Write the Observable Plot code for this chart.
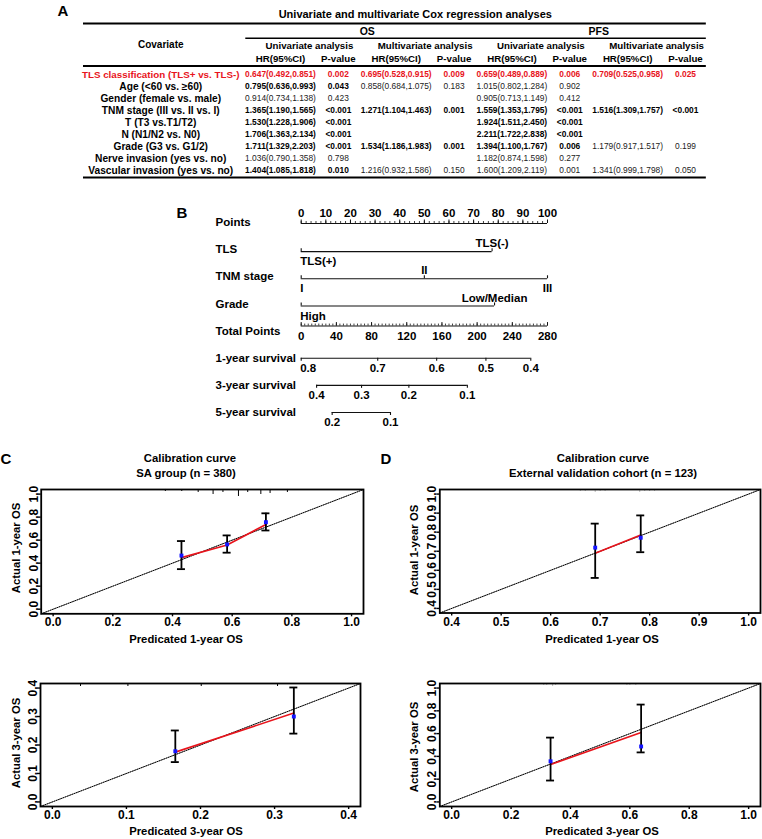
<!DOCTYPE html>
<html><head><meta charset="utf-8">
<script src="https://cdn.jsdelivr.net/npm/d3@7"></script>
<script src="https://cdn.jsdelivr.net/npm/@observablehq/plot@0.6"></script>
<style>
body{margin:0;background:#fff;}
#fig{position:relative;width:762px;height:839px;font-family:"Liberation Sans",Arial,sans-serif;font-weight:bold;color:#000;overflow:hidden;background:#fff}
.blk{position:absolute}
.lbl{position:absolute;white-space:nowrap;transform:translate(-50%,-50%);font-size:11px;line-height:1}
.rot{transform:translate(-50%,-50%) rotate(-90deg)}
</style></head><body><div id="fig"></div>
<script>
// ---------------- DATA ----------------
// Panel A: Cox regression table
const covariates = ["TLS classification (TLS+ vs. TLS-)","Age (<60 vs. ≥60)","Gender (female vs. male)","TNM stage (III vs. II vs. I)","T (T3 vs.T1/T2)","N (N1/N2 vs. N0)","Grade (G3 vs. G1/2)","Nerve invasion (yes vs. no)","Vascular invasion (yes vs. no)"];
const osUniHR = ["0.647(0.492,0.851)","0.795(0.636,0.993)","0.914(0.734,1.138)","1.365(1.190,1.565)","1.530(1.228,1.906)","1.706(1.363,2.134)","1.711(1.329,2.203)","1.036(0.790,1.358)","1.404(1.085,1.818)"];
const osUniP = ["0.002","0.043","0.423","<0.001","<0.001","<0.001","<0.001","0.798","0.010"];
const osMultiHR = ["0.695(0.528,0.915)","0.858(0.684,1.075)","","1.271(1.104,1.463)","","","1.534(1.186,1.983)","","1.216(0.932,1.586)"];
const osMultiP = ["0.009","0.183","","0.001","","","0.001","","0.150"];
const pfsUniHR = ["0.659(0.489,0.889)","1.015(0.802,1.284)","0.905(0.713,1.149)","1.559(1.353,1.795)","1.924(1.511,2.450)","2.211(1.722,2.838)","1.394(1.100,1.767)","1.182(0.874,1.598)","1.600(1.209,2.119)"];
const pfsUniP = ["0.006","0.902","0.412","<0.001","<0.001","<0.001","0.006","0.277","0.001"];
const pfsMultiHR = ["0.709(0.525,0.958)","","","1.516(1.309,1.757)","","","1.179(0.917,1.517)","","1.341(0.999,1.798)"];
const pfsMultiP = ["0.025","","","<0.001","","","0.199","","0.050"];
// cells printed as significant (bold) in the table
const osUniSig   = [1,1,0,1,1,1,1,0,1];
const osMultiSig = [1,0,0,1,0,0,1,0,0];
const pfsUniSig  = [1,0,0,1,1,1,1,0,0];
const pfsMultiSig= [1,0,0,1,0,0,0,0,0];
const highlightRow = 0;
const tableTitle = "Univariate and multivariate Cox regression analyses";
const outcomeGroups = ["OS","PFS"];
const analysisTypes = ["Univariate analysis","Multivariate analysis"];
const statHeads = ["HR(95%CI)","P-value"];

// Panel B: nomogram
const nomoRows = ["Points","TLS","TNM stage","Grade","Total Points","1-year survival","3-year survival","5-year survival"];
const pointsMajor = [0,10,20,30,40,50,60,70,80,90,100];
const tlsLevels = ["TLS(+)","TLS(-)"], tlsPoints = [0,77.5];
const tnmLevels = ["I","II","III"], tnmPoints = [0,50,100];
const gradeLevels = ["High","Low/Median"], gradePoints = [0,78.5];
const totalMajor = [0,40,80,120,160,200,240,280];
const surv1Labels = ["0.8","0.7","0.6","0.5","0.4"], surv1Total = [0,87,154,210,261];
const surv3Labels = ["0.4","0.3","0.2","0.1"], surv3Total = [17.5,68.6,122.4,188.9];
const surv5Labels = ["0.2","0.1"], surv5Total = [35.2,101.5];

// Panel C/D: calibration curves
const pred1SA = [0.430,0.583,0.713], obs1SA = [0.466,0.563,0.756], fit1SA = [0.448,0.558,0.736], lo1SA = [0.348,0.491,0.684], hi1SA = [0.592,0.641,0.833];
const rug1SA = [0.376,0.431,0.486,0.536,0.569,0.621,0.652,0.696,0.727,0.785], rugN1SA = [2,2,3,5,3,7,3,5,4,3];
const pred1Ext = [0.690,0.782], obs1Ext = [0.719,0.771], fit1Ext = [0.690,0.785], lo1Ext = [0.560,0.695], hi1Ext = [0.845,0.888];
const rug1Ext = [0.66,0.67,0.69,0.70,0.71,0.78,0.79,0.80,0.81,0.92], rugN1Ext = [2,2,3,2,2,3,2,2,2,1];
const pred3SA = [0.166,0.326], obs3SA = [0.178,0.300], fit3SA = [0.175,0.312], lo3SA = [0.140,0.240], hi3SA = [0.251,0.402];
const rug3SA = [0.038,0.102,0.201,0.304], rugN3SA = [3,3,3,3];
const pred3Ext = [0.333,0.638], obs3Ext = [0.357,0.487], fit3Ext = [0.328,0.609], lo3Ext = [0.188,0.435], hi3Ext = [0.565,0.855];
const rug3Ext = [0.31,0.32,0.34,0.35,0.59,0.60,0.62,0.75], rugN3Ext = [2,2,3,2,2,2,2,1];

// ---------------- LAYOUT ----------------
const FONT = '"Liberation Sans", Arial, sans-serif';
const RED = "#e8141c";
const fig = document.getElementById("fig");
function place(node, left, top){ const d=document.createElement("div"); d.className="blk"; d.style.left=left+"px"; d.style.top=top+"px"; d.appendChild(node); fig.appendChild(d); }
function label(txt, x, y, size=11, rot=false){ const d=document.createElement("div"); d.className="lbl"+(rot?" rot":""); d.textContent=txt; d.style.left=x+"px"; d.style.top=y+"px"; d.style.fontSize=size+"px"; fig.appendChild(d); }

// ---------------- PANEL A ----------------
(function(){
  const cols = [[osUniHR,osUniP,osUniSig],[osMultiHR,osMultiP,osMultiSig],[pfsUniHR,pfsUniP,pfsUniSig],[pfsMultiHR,pfsMultiP,pfsMultiSig]];
  const cells = [];
  cols.forEach(([hr,p,sig],k)=>covariates.forEach((c,i)=>{
    if(!hr[i]) return;
    const bold = !!sig[i], red = i===highlightRow;
    cells.push({col:2*k,row:i,text:hr[i],bold,red});
    cells.push({col:2*k+1,row:i,text:p[i],bold,red});
  }));
  const covX = -2.07, L = -3.405, R = 7.36;
  const heads = [];
  outcomeGroups.forEach((g,gi)=>analysisTypes.forEach((a,ai)=>{ const k=gi*2+ai; heads.push({x:2*k+0.5,text:a}); }));
  const stats = [];
  for(let k=0;k<4;k++) statHeads.forEach((s,j)=>stats.push({x:2*k+j,text:s}));
  const p = Plot.plot({
    width:762, height:185, margin:0,
    x:{domain:[0,7], range:[280,685], axis:null},
    y:{domain:[0,8], range:[74,170], axis:null},
    style:{fontFamily:FONT, background:"transparent", overflow:"visible"},
    marks:[
      Plot.text([tableTitle],{x:2.33,y:-5,text:d=>d,fontSize:11,fontWeight:"bold",fill:"black"}),
      Plot.ruleY([-4.25],{x1:L,x2:R,stroke:"black",strokeWidth:2}),
      Plot.text(outcomeGroups,{x:(d,i)=>1.5+4*i,y:-3.58,text:d=>d,fontSize:10.5,fontWeight:"bold",fill:"black"}),
      Plot.ruleY([-3.03],{x1:-0.6,x2:R,stroke:"black",strokeWidth:1.5}),
      Plot.text(["Covariate"],{x:covX,y:-2.5,text:d=>d,fontSize:10,fontWeight:"bold",fill:"black"}),
      Plot.text(heads,{x:"x",y:-2.42,text:"text",fontSize:9.7,fontWeight:"bold",fill:"black"}),
      Plot.text(stats,{x:"x",y:-1.33,text:"text",fontSize:9.7,fontWeight:"bold",fill:"black"}),
      Plot.ruleY([-0.71],{x1:L,x2:R,stroke:"black",strokeWidth:2}),
      Plot.text(covariates.filter((d,i)=>i!==highlightRow),{x:covX,y:d=>covariates.indexOf(d),text:d=>d,fontSize:10.2,fontWeight:"bold",fill:"black"}),
      Plot.text([covariates[highlightRow]],{x:covX,y:highlightRow,text:d=>d,fontSize:9.8,fontWeight:"bold",fill:RED}),
      Plot.text(cells.filter(d=>!d.bold),{x:"col",y:"row",text:"text",fontSize:8.4,fontWeight:"normal",fill:"#222"}),
      Plot.text(cells.filter(d=>d.bold&&!d.red),{x:"col",y:"row",text:"text",fontSize:8.4,fontWeight:"bold",fill:"black"}),
      Plot.text(cells.filter(d=>d.red),{x:"col",y:"row",text:"text",fontSize:8.4,fontWeight:"bold",fill:RED}),
      Plot.ruleY([8.58],{x1:L,x2:R,stroke:"black",strokeWidth:2})
    ]
  });
  place(p,0,0);
})();

// ---------------- PANEL B ----------------
(function(){
  const u = px => px*7/190; // pixels -> row units
  const row = n => nomoRows.indexOf(n);
  const pointsMinor = d3.range(0,101,2);
  const totalMinor = d3.range(0,281,4);
  const toPts = tp => tp*100/280;
  const FS = 11.5;
  const factor = (name, levels, pts) => {
    const r = row(name), ly = r + u(2);
    const data = levels.map((l,i)=>({l,p:pts[i],i}));
    const max = d3.max(pts);
    return [
      Plot.ruleY([ly],{x1:0,x2:max,stroke:"#111",strokeWidth:1.1}),
      Plot.ruleX(data,{x:"p",y1:ly,y2:ly-u(3),stroke:"#111",strokeWidth:1.1}),
      Plot.text(data.filter(d=>d.i%2===1),{x:"p",y:ly,dy:-8,text:"l",fontSize:FS,fontWeight:"bold",fill:"black"}),
      Plot.text(data.filter(d=>d.i%2===0&&d.p===0),{x:"p",y:ly,dy:10,text:"l",textAnchor:"start",dx:-1,fontSize:FS,fontWeight:"bold",fill:"black"}),
      Plot.text(data.filter(d=>d.i%2===0&&d.p!==0),{x:"p",y:ly,dy:10,text:"l",fontSize:FS,fontWeight:"bold",fill:"black"})
    ];
  };
  const surv = (name, labels, totals) => {
    const r = row(name);
    const data = labels.map((l,i)=>({l,p:toPts(totals[i])}));
    return [
      Plot.ruleY([r],{x1:d3.min(data,d=>d.p),x2:d3.max(data,d=>d.p),stroke:"#111",strokeWidth:1.1}),
      Plot.ruleX(data,{x:"p",y1:r,y2:r+u(3),stroke:"#111",strokeWidth:1.1}),
      Plot.text(data.filter(d=>d.p===0),{x:"p",y:r,dy:10,dx:-1,textAnchor:"start",text:"l",fontSize:FS,fontWeight:"bold",fill:"black"}),
      Plot.text(data.filter(d=>d.p!==0),{x:"p",y:r,dy:10,text:"l",fontSize:FS,fontWeight:"bold",fill:"black"})
    ];
  };
  const pY = row("Points") + u(1), tY = row("Total Points") - u(5);
  const p = Plot.plot({
    width:762, height:235, margin:0,
    x:{domain:[0,100], range:[300.7,547], axis:null},
    y:{domain:[0,7], range:[27,217], axis:null},
    style:{fontFamily:FONT, background:"transparent", overflow:"visible"},
    marks:[
      Plot.text(nomoRows,{y:(d,i)=>i,frameAnchor:"left",dx:215,textAnchor:"start",text:d=>d,fontSize:FS,fontWeight:"bold",fill:"black"}),
      Plot.ruleY([pY],{x1:0,x2:100,stroke:"#111",strokeWidth:1.1}),
      Plot.ruleX(pointsMinor,{x:d=>d,y1:pY,y2:pY-u(2),stroke:"#111",strokeWidth:0.8}),
      Plot.ruleX(pointsMajor,{x:d=>d,y1:pY,y2:pY-u(3.5),stroke:"#111",strokeWidth:1}),
      Plot.text(pointsMajor,{x:d=>d,y:pY,dy:-10,text:d=>String(d),fontSize:FS,fontWeight:"bold",fill:"black"}),
      ...factor("TLS",tlsLevels,tlsPoints),
      ...factor("TNM stage",tnmLevels,tnmPoints),
      ...factor("Grade",gradeLevels,gradePoints),
      Plot.ruleY([tY],{x1:0,x2:100,stroke:"#111",strokeWidth:1.1}),
      Plot.ruleX(totalMinor,{x:d=>toPts(d),y1:tY,y2:tY-u(2),stroke:"#111",strokeWidth:0.8}),
      Plot.ruleX(totalMajor,{x:d=>toPts(d),y1:tY,y2:tY-u(3.5),stroke:"#111",strokeWidth:1}),
      Plot.text(totalMajor,{x:d=>toPts(d),y:tY,dy:10,text:d=>String(d),fontSize:FS,fontWeight:"bold",fill:"black"}),
      ...surv("1-year survival",surv1Labels,surv1Total),
      ...surv("3-year survival",surv3Labels,surv3Total),
      ...surv("5-year survival",surv5Labels,surv5Total)
    ]
  });
  place(p,0,195);
})();

// ---------------- PANELS C / D ----------------
function calPlot({left, frame:[fl,fr,ft,fb], dom, ticks, pred, obs, fit, lo, hi, rug, rugN, rugColor}){
  const svgW = left===0 ? 380 : 382;
  const svgTop = ft - 9, svgH = fb - svgTop + 26;
  const pad = (dom[1]-dom[0])*0.04;
  const d = [dom[0]-pad, dom[1]+pad];
  const fw = fr-fl, fh = fb-ft;
  const capHalf = 4*(d[1]-d[0])/fw;
  const perPx = (d[1]-d[0])/fh;
  const data = pred.map((p,i)=>({pred:p,obs:obs[i],fit:fit[i],lo:lo[i],hi:hi[i]}));
  const rugData = rug.map((x,i)=>({x,n:rugN[i]}));
  const p = Plot.plot({
    width:svgW, height:svgH,
    marginLeft:fl-left, marginRight:left+svgW-fr, marginTop:ft-svgTop, marginBottom:svgTop+svgH-fb,
    x:{domain:d}, y:{domain:d},
    style:{fontFamily:FONT, fontSize:"12px", fontWeight:"bold", color:"black", background:"transparent", overflow:"visible"},
    marks:[
      Plot.line([d[0],d[1]],{x:v=>v,y:v=>v,stroke:"#aaa",strokeWidth:1}),
      Plot.line([d[0],d[1]],{x:v=>v,y:v=>v,stroke:"black",strokeWidth:1,strokeDasharray:"1,1.4"}),
      Plot.ruleX(rugData,{x:"x",y1:d[1],y2:r=>d[1]-r.n*perPx,stroke:rugColor,strokeWidth:1}),
      Plot.line(data,{x:"pred",y:"fit",stroke:RED,strokeWidth:1.6}),
      Plot.ruleX(data,{x:"pred",y1:"lo",y2:"hi",stroke:"black",strokeWidth:1.8}),
      Plot.ruleY(data,{y:"lo",x1:r=>r.pred-capHalf,x2:r=>r.pred+capHalf,stroke:"black",strokeWidth:1.8}),
      Plot.ruleY(data,{y:"hi",x1:r=>r.pred-capHalf,x2:r=>r.pred+capHalf,stroke:"black",strokeWidth:1.8}),
      Plot.dot(data,{x:"pred",y:"obs",symbol:"square",fill:"#1414ff",r:2.2}),
      Plot.frame({stroke:"black",strokeWidth:1.8}),
      Plot.axisX({ticks, tickFormat:".1f", tickSize:3, tickPadding:1, label:null, strokeWidth:1.4}),
      Plot.axisY({ticks, tickFormat:".1f", tickSize:3, tickPadding:0.7, tickRotate:-90, label:null, strokeWidth:1.4})
    ]
  });
  place(p,left,svgTop);
}
calPlot({left:0, frame:[40.7,363,489,613.3], dom:[0,1], ticks:[0,0.2,0.4,0.6,0.8,1.0], pred:pred1SA, obs:obs1SA, fit:fit1SA, lo:lo1SA, hi:hi1SA, rug:rug1SA, rugN:rugN1SA, rugColor:"black"});
calPlot({left:380, frame:[439.3,760,489,612.5], dom:[0.4,1], ticks:[0.4,0.5,0.6,0.7,0.8,0.9,1.0], pred:pred1Ext, obs:obs1Ext, fit:fit1Ext, lo:lo1Ext, hi:hi1Ext, rug:rug1Ext, rugN:rugN1Ext, rugColor:"#bbb"});
calPlot({left:0, frame:[40,360,682.7,805.7], dom:[0,0.4], ticks:[0,0.1,0.2,0.3,0.4], pred:pred3SA, obs:obs3SA, fit:fit3SA, lo:lo3SA, hi:hi3SA, rug:rug3SA, rugN:rugN3SA, rugColor:"black"});
calPlot({left:380, frame:[439.3,760,682.7,805.7], dom:[0,1], ticks:[0,0.2,0.4,0.6,0.8,1.0], pred:pred3Ext, obs:obs3Ext, fit:fit3Ext, lo:lo3Ext, hi:hi3Ext, rug:rug3Ext, rugN:rugN3Ext, rugColor:"#bbb"});

// text labels
label("A",63,10,15); label("B",182,212,15); label("C",6,458,15); label("D",386,458,15);
label("Calibration curve",190,459,11.3); label("SA group (n = 380)",186,474,11.3);
label("Calibration curve",603,459,11.3); label("External validation cohort (n = 123)",603,474,11.3);
label("Predicated 1-year OS",186,640,11.3); label("Predicated 1-year OS",602,640,11.3);
label("Predicated 3-year OS",186,832,11.3); label("Predicated 3-year OS",602,832,11.3);
label("Actual 1-year OS",17,548,11.3,true); label("Actual 1-year OS",415,550,11.3,true);
label("Actual 3-year OS",17,743,11.3,true); label("Actual 3-year OS",415,747,11.3,true);
</script></body></html>
